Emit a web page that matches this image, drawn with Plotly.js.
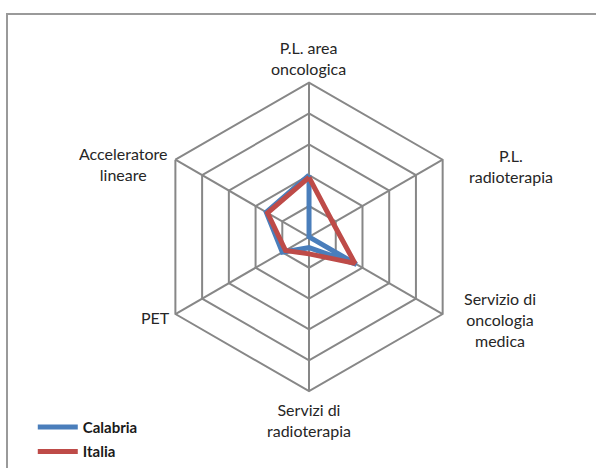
<!DOCTYPE html>
<html>
<head>
<meta charset="utf-8">
<script src="https://cdn.plot.ly/plotly-3.0.1.min.js"></script>
<style>
    body { margin: 0; background: #fff; overflow: hidden; }
    #frame {
        position: absolute; left: 6px; top: 13px;
        width: 620px; height: 500px;
        border: 2px solid #9a9a9a;
        box-sizing: border-box;
    }
    #chart { position: absolute; left: 0; top: 0; width: 596px; height: 468px; }
</style>
</head>
<body>
<div id="frame"></div>
<div id="chart"></div>
<script>
// ---------- Data ---------- //
const categories = [
    'P.L. area<br>oncologica',
    'P.L.<br>radioterapia',
    'Servizio di<br>oncologia<br>medica',
    'Servizi di<br>radioterapia',
    'PET',
    'Acceleratore<br>lineare'
];
const calabria = [2.0, 0.0, 1.78, 0.35, 1.0, 1.6];
const italia = [1.93, 0.9, 1.72, 0.55, 0.88, 1.55];
const rings = [0, 1, 2, 3, 4, 5];

// where each category label sits (pixel centre of the text block)
const labelPos = [
    [309, 59],
    [511, 169],
    [500, 325],
    [309, 427],
    [155, 323],
    [123, 167]
];

// close the polygons
const closed = arr => arr.concat([arr[0]]);

const W = 596, H = 468;

const traces = [
    {
        type: 'scatterpolar',
        mode: 'lines',
        name: '<b>Calabria</b>',
        legendgroup: 'cal',
        r: closed(calabria),
        theta: closed(categories),
        line: { color: '#4a7ebb', width: 5 },
    },
    {
        type: 'scatterpolar',
        mode: 'lines',
        name: '<b>Italia</b>',
        legendgroup: 'ita',
        r: closed(italia),
        theta: closed(categories),
        line: { color: '#be4b48', width: 5 },
    },
];

// category labels as centred text, like the spreadsheet chart
const annotations = categories.map((c, i) => ({
    text: c,
    xref: 'paper', yref: 'paper',
    x: labelPos[i][0] / W,
    y: 1 - labelPos[i][1] / H,
    xanchor: 'center', yanchor: 'middle',
    align: 'center',
    showarrow: false,
    font: { size: 16, color: '#262626' },
}));

const gridGray = '#878787';

const layout = {
    width: W,
    height: H,
    margin: { t: 0, l: 0, r: 0, b: 0 },
    paper_bgcolor: 'rgba(0,0,0,0)',
    plot_bgcolor: 'rgba(0,0,0,0)',
    font: { family: 'Lato, "Open Sans", sans-serif', size: 16, color: '#262626' },
    showlegend: true,
    legend: {
        x: 0.055, y: 1 - 418 / H,
        xanchor: 'left', yanchor: 'top',
        bgcolor: 'rgba(0,0,0,0)',
        itemwidth: 40,
        tracegroupgap: 2,
        font: { size: 15, color: '#1a1a1a' },
    },
    annotations: annotations,
    polar: {
        domain: { x: [0.255, 0.782], y: [0.1496, 0.8205] },
        bgcolor: 'rgba(0,0,0,0)',
        gridshape: 'linear',
        radialaxis: {
            range: [0, 5],
            tickvals: rings,
            showticklabels: false,
            ticks: '',
            showline: false,
            gridcolor: gridGray,
            gridwidth: 2,
        },
        angularaxis: {
            direction: 'clockwise',
            rotation: 90,
            ticks: '',
            showticklabels: false,
            showline: true,
            linecolor: gridGray,
            linewidth: 2,
            gridcolor: gridGray,
            gridwidth: 2,
        },
    },
};

Plotly.newPlot('chart', traces, layout, { displayModeBar: false, staticPlot: true });
</script>
</body>
</html>
